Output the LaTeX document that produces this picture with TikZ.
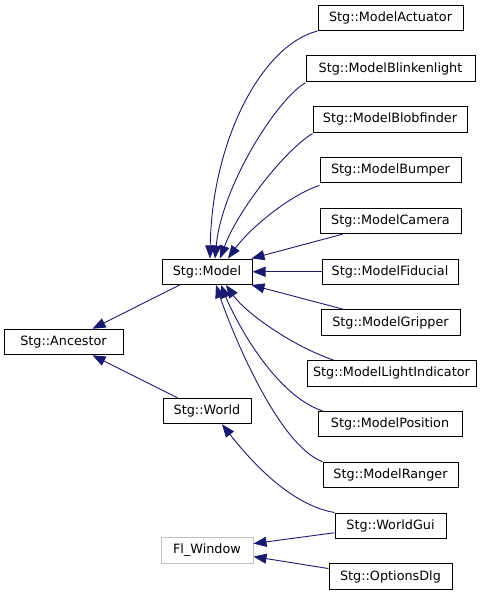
\documentclass[tikz,border=0pt]{standalone}
\usepackage{fontspec}
\setmainfont{DejaVu Sans}
\usetikzlibrary{arrows.meta}
\definecolor{edgeblue}{HTML}{191970}
\definecolor{greyframe}{HTML}{BFBFBF}
\tikzset{
  cls/.style={draw=black, line width=1pt, fill=white, inner sep=0pt, minimum height=25.5pt,
    font=\fontsize{12.8}{15}\selectfont, text=black},
  ext/.style={cls, draw=greyframe},
  edge/.style={draw=edgeblue, line width=0.9pt, -{Triangle[length=13pt,width=10pt]}},
}
\begin{document}
\begin{tikzpicture}[x=1pt,y=-1pt]
\useasboundingbox (0,0) rectangle (485,595);
% right column
\node[cls, minimum width=145pt] (act) at (390.5,17.75) {Stg::ModelActuator};
\node[cls, minimum width=169pt] (blink) at (390.5,68.55) {Stg::ModelBlinkenlight};
\node[cls, minimum width=154pt] (blob) at (390,119.35) {Stg::ModelBlobfinder};
\node[cls, minimum width=141pt] (bump) at (390.5,170.15) {Stg::ModelBumper};
\node[cls, minimum width=141pt] (cam) at (390.5,220.95) {Stg::ModelCamera};
\node[cls, minimum width=136pt] (fid) at (390,271.75) {Stg::ModelFiducial};
\node[cls, minimum width=139pt] (grip) at (390.5,322.55) {Stg::ModelGripper};
\node[cls, minimum width=169pt] (light) at (391.5,373.35) {Stg::ModelLightIndicator};
\node[cls, minimum width=144pt] (pos) at (390,424.15) {Stg::ModelPosition};
\node[cls, minimum width=135pt] (rang) at (390.5,474.95) {Stg::ModelRanger};
\node[cls, minimum width=111pt] (wgui) at (390.5,525.75) {Stg::WorldGui};
\node[cls, minimum width=123pt] (opt) at (390.5,576.55) {Stg::OptionsDlg};
% middle column
\node[cls, minimum width=90pt] (model) at (207,271.75) {Stg::Model};
\node[cls, minimum width=88pt] (world) at (207,411) {Stg::World};
\node[ext, minimum width=92pt] (flw) at (207,550.6) {Fl\_Window};
% left
\node[cls, minimum width=119pt] (anc) at (63.5,342) {Stg::Ancestor};
% edges to Model (top)
\draw[edge] (act.south west) .. controls (262,45) and (212,140) .. ([xshift=3pt]model.north);
\draw[edge] ([yshift=-1pt]blink.south west) .. controls (278,98) and (222,185) .. ([xshift=8pt]model.north);
\draw[edge] ([yshift=-1pt]blob.south west) .. controls (285,150) and (238,210) .. ([xshift=13pt]model.north);
\draw[edge] ([yshift=-2pt]bump.south west) .. controls (290,195) and (250,228) .. ([xshift=21pt]model.north);
\draw[edge] ([xshift=-48pt]cam.south) -- ([xshift=-1pt]model.north east);
\draw[edge] (fid.west) -- (model.east);
\draw[edge] ([xshift=-47pt]grip.north) -- ([xshift=-1pt]model.south east);
\draw[edge] ([xshift=-58pt]light.north) .. controls (290,345) and (245,312) .. ([xshift=19pt]model.south);
\draw[edge] ([xshift=5pt]pos.north west) .. controls (275,395) and (236,322) .. ([xshift=14pt]model.south);
\draw[edge] (rang.north west) .. controls (278,445) and (232,332) .. ([xshift=9pt]model.south);
% World
\draw[edge] (wgui.north west) .. controls (290,505) and (250,460) .. ([xshift=15pt]world.south);
% Fl_Window
\draw[edge] ([yshift=-7pt]wgui.west) -- ([yshift=7pt]flw.east);
\draw[edge] ([yshift=8pt]opt.west) -- ([yshift=-6pt]flw.east);
% Ancestor
\draw[edge] ([xshift=18pt]model.south west) -- ([xshift=29pt]anc.north);
\draw[edge] ([xshift=15pt]world.north west) -- ([xshift=29pt]anc.south);
\end{tikzpicture}
\end{document}
